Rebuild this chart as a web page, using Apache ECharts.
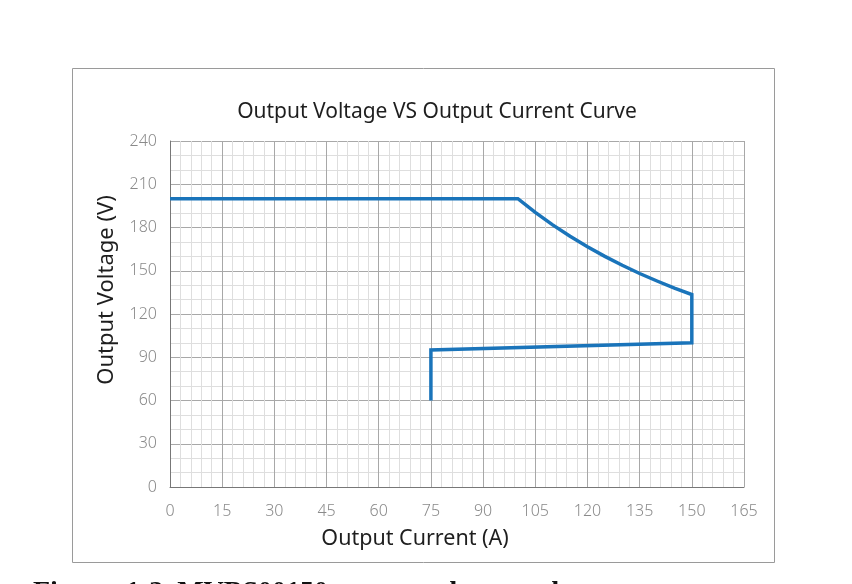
<!DOCTYPE html>
<html>
<head>
<meta charset="utf-8">
<script src="https://cdn.jsdelivr.net/npm/echarts@6/dist/echarts.min.js"></script>
<style>
  html, body { margin: 0; padding: 0; background: #fff; }
  #chart { width: 852px; height: 584px; }
</style>
</head>
<body>
<div id="chart"></div>
<script>
// output current (A) and voltage (V)
const currentA = [0, 100, 105, 110, 115, 120, 125, 130, 135, 140, 145, 150, 150, 75, 75];
const voltageV = [200, 200, 190.5, 181.8, 173.9, 166.7, 160, 153.8, 148.1, 142.9, 137.9, 133.5, 100, 95, 60];

const xTicks = [0, 15, 30, 45, 60, 75, 90, 105, 120, 135, 150, 165];
const yTicks = [0, 30, 60, 90, 120, 150, 180, 210, 240];

const chart = echarts.init(document.getElementById('chart'));

const tickFont = { color: '#8a8a8a', fontSize: 16, fontFamily: 'Noto Sans', fontWeight: 300 };

const option = {
    animation: false,
    backgroundColor: '#fff',
    grid: { left: 170, right: 108, top: 141, bottom: 97 },
    graphic: [
        {
            type: 'rect',
            shape: { x: 72.5, y: 68.5, width: 702, height: 494 },
            style: { fill: 'none', stroke: '#9a9a9a', lineWidth: 1 },
            silent: true
        },
        {
            type: 'text', x: 437, y: 112,
            style: {
                text: 'Output Voltage VS Output Current Curve',
                fill: '#1e1e1e', font: '21px "Noto Sans"',
                textAlign: 'center', textVerticalAlign: 'middle'
            }
        },
        {
            type: 'text', x: 415, y: 539,
            style: {
                text: 'Output Current (A)',
                fill: '#1e1e1e', font: '21.5px "Noto Sans"',
                textAlign: 'center', textVerticalAlign: 'middle'
            }
        },
        {
            type: 'text', x: 107, y: 290, rotation: Math.PI / 2,
            style: {
                text: 'Output Voltage (V)',
                fill: '#1e1e1e', font: '22px "Noto Sans"',
                textAlign: 'center', textVerticalAlign: 'middle'
            }
        },
        {
            type: 'text', x: 33, y: 593,
            style: {
                text: 'Figure  1-3  MVBS00150 output voltage and current curve',
                fill: '#111', font: 'bold 28px "Liberation Serif"',
                textAlign: 'left', textVerticalAlign: 'middle'
            }
        }
    ],
    xAxis: {
        type: 'value',
        min: 0, max: 165, interval: 15,
        axisLine: { show: true, onZero: false, lineStyle: { color: '#777', width: 1 } },
        axisTick: { show: false },
        axisLabel: Object.assign({ margin: 16, formatter: v => xTicks.includes(v) ? String(v) : '' }, tickFont),
        splitLine: { show: true, lineStyle: { color: '#a8a8a8', width: 1 } },
        minorTick: { show: false, splitNumber: 5 },
        minorSplitLine: { show: true, lineStyle: { color: '#dedede', width: 1 } }
    },
    yAxis: {
        type: 'value',
        min: 0, max: 240, interval: 30,
        axisLine: { show: true, lineStyle: { color: '#777', width: 1 } },
        axisTick: { show: false },
        axisLabel: Object.assign({ margin: 13, formatter: v => yTicks.includes(v) ? String(v) : '' }, tickFont),
        splitLine: { show: true, lineStyle: { color: '#a8a8a8', width: 1 } },
        minorTick: { show: false, splitNumber: 3 },
        minorSplitLine: { show: true, lineStyle: { color: '#dedede', width: 1 } }
    },
    series: [{
        type: 'line',
        data: currentA.map((c, i) => [c, voltageV[i]]),
        showSymbol: false,
        lineStyle: { color: '#1a74ba', width: 3.5, join: 'miter' },
        itemStyle: { color: '#1a74ba' }
    }]
};

chart.setOption(option);
</script>
</body>
</html>
